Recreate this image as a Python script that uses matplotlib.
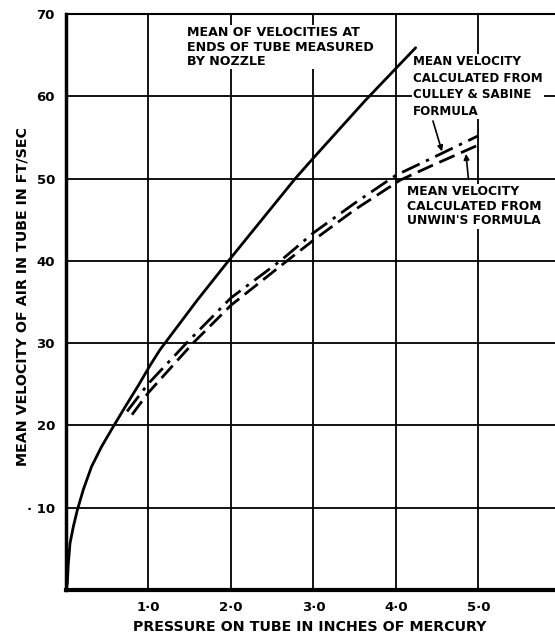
import matplotlib
matplotlib.use("Agg")
import matplotlib.pyplot as plt

# ---- data ----
nozzle_x = [0.0, 0.016, 0.028, 0.049, 0.089, 0.137, 0.21, 0.31, 0.43, 0.57, 0.72, 0.88,
            1.02, 1.14, 1.26, 1.59, 1.97, 2.78, 3.0, 3.63, 4.24]
nozzle_y = [0.0, 0.8, 3.2, 5.7, 7.7, 9.7, 12.2, 15.0, 17.4, 19.8, 22.3, 24.9,
            27.3, 29.2, 30.8, 35.2, 40.0, 50.0, 52.5, 59.5, 65.9]

culley_x = [0.74, 1.0, 1.46, 2.0, 2.6, 3.0, 3.5, 4.0, 4.42, 5.0]
culley_y = [21.7, 25.1, 30.0, 35.5, 40.0, 43.4, 47.0, 50.4, 52.4, 55.2]

unwin_x = [0.80, 1.0, 1.54, 2.0, 2.68, 3.0, 3.5, 4.05, 4.42, 5.05]
unwin_y = [21.3, 24.0, 30.0, 34.6, 40.0, 42.5, 46.2, 49.8, 51.5, 54.3]

x_ticks = [1, 2, 3, 4, 5]
x_tick_labels = ["1·0", "2·0", "3·0", "4·0", "5·0"]
y_ticks = [10, 20, 30, 40, 50, 60, 70]
y_tick_labels = ["· 10", "20", "30", "40", "50", "60", "70"]

label_nozzle = "MEAN OF VELOCITIES AT\nENDS OF TUBE MEASURED\nBY NOZZLE"
label_culley = "MEAN VELOCITY\nCALCULATED FROM\nCULLEY & SABINE\nFORMULA"
label_unwin = "MEAN VELOCITY\nCALCULATED FROM\nUNWIN'S FORMULA"
xlabel = "PRESSURE ON TUBE IN INCHES OF MERCURY"
ylabel = "MEAN VELOCITY OF AIR IN TUBE IN FT/SEC"

# ---- figure ----
fig = plt.figure(figsize=(5.55, 6.37), dpi=100)
ax = fig.add_axes([66 / 555, 47 / 637, 1 - 66 / 555, (590 - 14) / 637])
ax.set_xlim(0, 5.93)
ax.set_ylim(0, 70)

font = dict(family="DejaVu Sans", weight="bold")

# grid
for xv in x_ticks:
    ax.axvline(xv, color="black", lw=1.3, zorder=1)
for yv in y_ticks[:-1]:
    ax.axhline(yv, color="black", lw=1.3, zorder=1)

ax.spines["right"].set_visible(False)
ax.spines["top"].set_linewidth(1.5)
ax.spines["left"].set_linewidth(2.5)
ax.spines["bottom"].set_linewidth(3.0)

ax.tick_params(length=0, pad=8)
ax.set_xticks(x_ticks)
ax.set_xticklabels(x_tick_labels, fontsize=9.5, **font)
ax.set_yticks(y_ticks)
ax.set_yticklabels(y_tick_labels, fontsize=9.5, **font)

# curves
ax.plot(nozzle_x, nozzle_y, color="black", lw=2.0, zorder=3,
        solid_joinstyle="round", solid_capstyle="round")
ax.plot(culley_x, culley_y, color="black", lw=2.0, zorder=3,
        dashes=(7, 2.5, 1.2, 2.5))
ax.plot(unwin_x, unwin_y, color="black", lw=2.0, zorder=3,
        dashes=(6, 2.5))

# annotations
box = dict(fc="white", ec="none", pad=1)
ax.text(1.47, 68.5, label_nozzle, fontsize=9.1, va="top", ha="left",
        linespacing=1.12, bbox=box, zorder=4, **font)
ax.text(4.21, 65.0, label_culley, fontsize=8.6, va="top", ha="left",
        linespacing=1.35, bbox=box, zorder=4, **font)
ax.text(4.14, 49.2, label_unwin, fontsize=8.9, va="top", ha="left",
        linespacing=1.15, bbox=box, zorder=4, **font)

ax.annotate("", xy=(4.56, 53.3), xytext=(4.45, 57.0),
            arrowprops=dict(arrowstyle="-|>", color="black", lw=1.2,
                            mutation_scale=8, shrinkA=0, shrinkB=0), zorder=5)
ax.annotate("", xy=(4.85, 53.0), xytext=(4.88, 50.0),
            arrowprops=dict(arrowstyle="-|>", color="black", lw=1.2,
                            mutation_scale=8, shrinkA=0, shrinkB=0), zorder=5)

ax.set_xlabel(xlabel, fontsize=10.3, **font)
ax.xaxis.label.set_verticalalignment("center")
ax.xaxis.set_label_coords((310 - 66) / 489, -(627 - 590) / 576)
ax.set_ylabel(ylabel, fontsize=10.3, **font)
ax.yaxis.label.set_verticalalignment("center")
ax.yaxis.set_label_coords((23 - 66) / 489, 0.51)

fig.savefig("out.png", dpi=100)
